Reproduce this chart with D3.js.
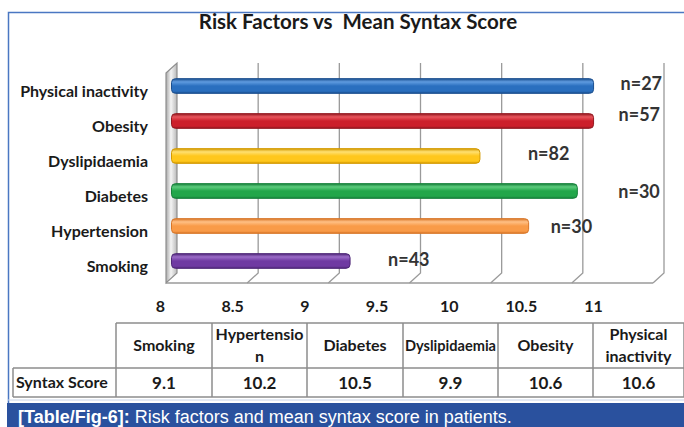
<!DOCTYPE html>
<html>
<head>
<meta charset="utf-8">
<script src="https://cdn.jsdelivr.net/npm/d3@7/dist/d3.min.js"></script>
<style>
  html, body { margin: 0; padding: 0; background: #fff; }
  svg { display: block; }
  text { white-space: pre; }
</style>
</head>
<body>
<svg id="chart" width="684" height="427"></svg>
<script>
// Risk factors, in table order (left to right)
const riskFactors = ["Smoking", "Hypertension", "Diabetes", "Dyslipidaemia", "Obesity", "Physical inactivity"];
// Mean syntax score per risk factor
const syntaxScores = [9.1, 10.2, 10.5, 9.9, 10.6, 10.6];
// Number of patients per risk factor
const patientCounts = [43, 30, 30, 82, 57, 27];
// Header text of the table columns (wrapped as printed)
const tableHeaders = [["Smoking"], ["Hypertensio", "n"], ["Diabetes"], ["Dyslipidaemia"], ["Obesity"], ["Physical", "inactivity"]];
const rowHeader = "Syntax Score";
// Axis ticks
const axisTicks = [8, 8.5, 9, 9.5, 10, 10.5, 11];

const title = "Risk Factors vs  Mean Syntax Score";

// ---- styling / layout ----
const barColors = {
  "Physical inactivity": { base: "#2a6fbf", light: "#5f9be0", dark: "#1b4f8f" },
  "Obesity":             { base: "#cc1f2b", light: "#e8555c", dark: "#931820" },
  "Dyslipidaemia":       { base: "#ffc71c", light: "#ffe070", dark: "#d49a00" },
  "Diabetes":            { base: "#22a64a", light: "#5ccc7c", dark: "#16803a" },
  "Hypertension":        { base: "#f99b48", light: "#ffc085", dark: "#d87628" },
  "Smoking":             { base: "#6f3aa2", light: "#9b6cc8", dark: "#4f2878" }
};
// nudges for the "n=" labels, relative to each bar end
const nLabelNudge = {
  "Smoking": [38, -1], "Hypertension": [22, 1], "Diabetes": [41, 1],
  "Dyslipidaemia": [48, -2], "Obesity": [25, -6], "Physical inactivity": [27, -2]
};

const FONT = "Lato, 'Open Sans', sans-serif";
const svg = d3.select("#chart");
const defs = svg.append("defs");

// depth offset of the pseudo-3D plot (half depth)
const dx = 5.5, dy = 5;

const chartOrder = riskFactors.slice().reverse(); // top to bottom
const x = d3.scaleLinear().domain([8, 11]).range([171.5, 658.5]);
const y = d3.scaleBand().domain(chartOrder).range([68.5, 278.5]).paddingInner(0.58).paddingOuter(0.29);
const xLabel = d3.scaleLinear().domain([8, 11]).range([160, 593]);

const wallTop = 63, floorBack = 273, floorFront = 283;

// outer frame
svg.append("path")
  .attr("d", "M8.5,403 V12.5 H684")
  .attr("fill", "none").attr("stroke", "#4a77c2").attr("stroke-width", 1.5);

// title
svg.append("text")
  .attr("x", 358).attr("y", 29)
  .attr("text-anchor", "middle")
  .attr("font-family", FONT).attr("font-weight", "bold").attr("font-size", 20.5)
  .attr("fill", "#1a1a1a")
  .text(title);

// ---- walls and floor ----
const grid = svg.append("g").attr("stroke", "#9a9a9a").attr("stroke-width", 1.3).attr("fill", "none");
axisTicks.slice(1).forEach(t => {
  const xb = x(t) + dx, xf = x(t) - dx;
  grid.append("path")
    .attr("d", `M${xb},${wallTop} V${floorBack} L${xf},${floorFront}`);
});
grid.append("line")
  .attr("x1", x(8) - dx).attr("x2", x(11) - dx)
  .attr("y1", floorFront).attr("y2", floorFront);

// left side wall
const sideGrad = defs.append("linearGradient").attr("id", "sideGrad")
  .attr("x1", "0").attr("x2", "1").attr("y1", "0").attr("y2", "0");
sideGrad.append("stop").attr("offset", "0%").attr("stop-color", "#a9a9a9");
sideGrad.append("stop").attr("offset", "45%").attr("stop-color", "#f4f4f4");
sideGrad.append("stop").attr("offset", "100%").attr("stop-color", "#b8b8b8");
svg.append("path")
  .attr("d", `M${x(8) - dx},${wallTop + 2 * dy} L${x(8) + dx},${wallTop} V${floorBack} L${x(8) - dx},${floorFront} Z`)
  .attr("fill", "url(#sideGrad)").attr("stroke", "#8f8f8f").attr("stroke-width", 1.2);

// ---- bars ----
chartOrder.forEach((name, i) => {
  const c = barColors[name];
  const g = defs.append("linearGradient").attr("id", "bar" + i)
    .attr("x1", "0").attr("x2", "0").attr("y1", "0").attr("y2", "1");
  g.append("stop").attr("offset", "0%").attr("stop-color", c.dark);
  g.append("stop").attr("offset", "22%").attr("stop-color", c.light);
  g.append("stop").attr("offset", "50%").attr("stop-color", c.base);
  g.append("stop").attr("offset", "85%").attr("stop-color", c.base);
  g.append("stop").attr("offset", "100%").attr("stop-color", c.dark);
});

const bars = chartOrder.map(name => {
  const k = riskFactors.indexOf(name);
  return { name, value: syntaxScores[k], n: patientCounts[k] };
});

svg.append("g").selectAll("rect").data(bars).join("rect")
  .attr("x", x(8))
  .attr("y", d => y(d.name))
  .attr("width", d => x(d.value) - x(8))
  .attr("height", y.bandwidth())
  .attr("rx", 4).attr("ry", 4)
  .attr("fill", (d, i) => `url(#bar${i})`)
  .attr("stroke", d => barColors[d.name].dark).attr("stroke-width", 1);

// n labels
svg.append("g").selectAll("text").data(bars).join("text")
  .attr("x", d => x(d.value) + nLabelNudge[d.name][0])
  .attr("y", d => y(d.name) + y.bandwidth() / 2 + nLabelNudge[d.name][1])
  .attr("dy", "0.36em")
  .attr("font-family", FONT).attr("font-weight", "bold").attr("font-size", 18)
  .attr("fill", "#333333")
  .text(d => "n=" + d.n);

// category labels
svg.append("g").selectAll("text").data(chartOrder).join("text")
  .attr("x", 148)
  .attr("y", d => y(d) + y.bandwidth() / 2 + 5)
  .attr("dy", "0.36em")
  .attr("text-anchor", "end")
  .attr("font-family", FONT).attr("font-weight", "bold").attr("font-size", 16)
  .attr("fill", "#1a1a1a")
  .text(d => d);

// value axis
const axis = svg.append("g")
  .attr("transform", "translate(0,301)")
  .call(d3.axisBottom(xLabel).tickValues(axisTicks).tickSize(0).tickPadding(0).tickFormat(d3.format("")));
axis.select(".domain").remove();
axis.selectAll("text")
  .attr("font-family", FONT).attr("font-weight", "bold").attr("font-size", 16)
  .attr("fill", "#1a1a1a");

// ---- data table ----
const colEdges = [116, 212, 307, 403, 498, 593, 684];
const rowLeft = 13;
const headTop = 323, headBottom = 368, rowBottom = 397;
const tbl = svg.append("g");
const lineStyle = sel => sel.attr("stroke", "#8c8c8c").attr("stroke-width", 1.5).attr("fill", "none");

tbl.append("line").attr("x1", colEdges[0]).attr("x2", 684).attr("y1", headTop).attr("y2", headTop).call(lineStyle);
tbl.append("line").attr("x1", rowLeft).attr("x2", 684).attr("y1", headBottom).attr("y2", headBottom).call(lineStyle);
tbl.append("line").attr("x1", rowLeft).attr("x2", 684).attr("y1", rowBottom).attr("y2", rowBottom).call(lineStyle);
tbl.append("line").attr("x1", rowLeft).attr("x2", rowLeft).attr("y1", headBottom).attr("y2", rowBottom).call(lineStyle);
colEdges.forEach(cx => {
  tbl.append("line").attr("x1", cx).attr("x2", cx).attr("y1", headTop).attr("y2", rowBottom).call(lineStyle);
});

tableHeaders.forEach((lines, i) => {
  const cx = (colEdges[i] + colEdges[i + 1]) / 2;
  const cy = (headTop + headBottom) / 2;
  const maxW = colEdges[i + 1] - colEdges[i] - 4;
  const lh = 22;
  lines.forEach((ln, j) => {
    const t = tbl.append("text")
      .attr("x", cx)
      .attr("y", cy + (j - (lines.length - 1) / 2) * lh)
      .attr("dy", "0.36em")
      .attr("text-anchor", "middle")
      .attr("font-family", FONT).attr("font-weight", "bold").attr("font-size", 16)
      .attr("fill", "#1a1a1a")
      .text(ln);
    // squeeze long headers into their cell
    if (t.node().getComputedTextLength() > maxW) {
      t.attr("textLength", maxW).attr("lengthAdjust", "spacingAndGlyphs");
    }
  });
});

tbl.append("text")
  .attr("x", rowLeft + 3).attr("y", (headBottom + rowBottom) / 2)
  .attr("dy", "0.36em")
  .attr("font-family", FONT).attr("font-weight", "bold").attr("font-size", 16)
  .attr("fill", "#1a1a1a")
  .text(rowHeader);

syntaxScores.forEach((v, i) => {
  tbl.append("text")
    .attr("x", (colEdges[i] + colEdges[i + 1]) / 2)
    .attr("y", (headBottom + rowBottom) / 2)
    .attr("dy", "0.36em")
    .attr("text-anchor", "middle")
    .attr("font-family", FONT).attr("font-weight", "bold").attr("font-size", 17)
    .attr("fill", "#1a1a1a")
    .text(d3.format(".1f")(v));
});

// ---- caption bar ----
svg.append("line").attr("x1", 8).attr("x2", 684).attr("y1", 400).attr("y2", 400)
  .attr("stroke", "#c9d4e8").attr("stroke-width", 1);
svg.append("rect").attr("x", 7).attr("y", 403).attr("width", 677).attr("height", 24).attr("fill", "#2a519e");
const cap = svg.append("text")
  .attr("x", 18).attr("y", 423)
  .attr("font-family", "'Liberation Sans', Arial, sans-serif").attr("font-size", 18)
  .attr("fill", "#ffffff");
cap.append("tspan").attr("font-weight", "bold").text("[Table/Fig-6]:");
cap.append("tspan").text(" Risk factors and mean syntax score in patients.");
</script>
</body>
</html>
